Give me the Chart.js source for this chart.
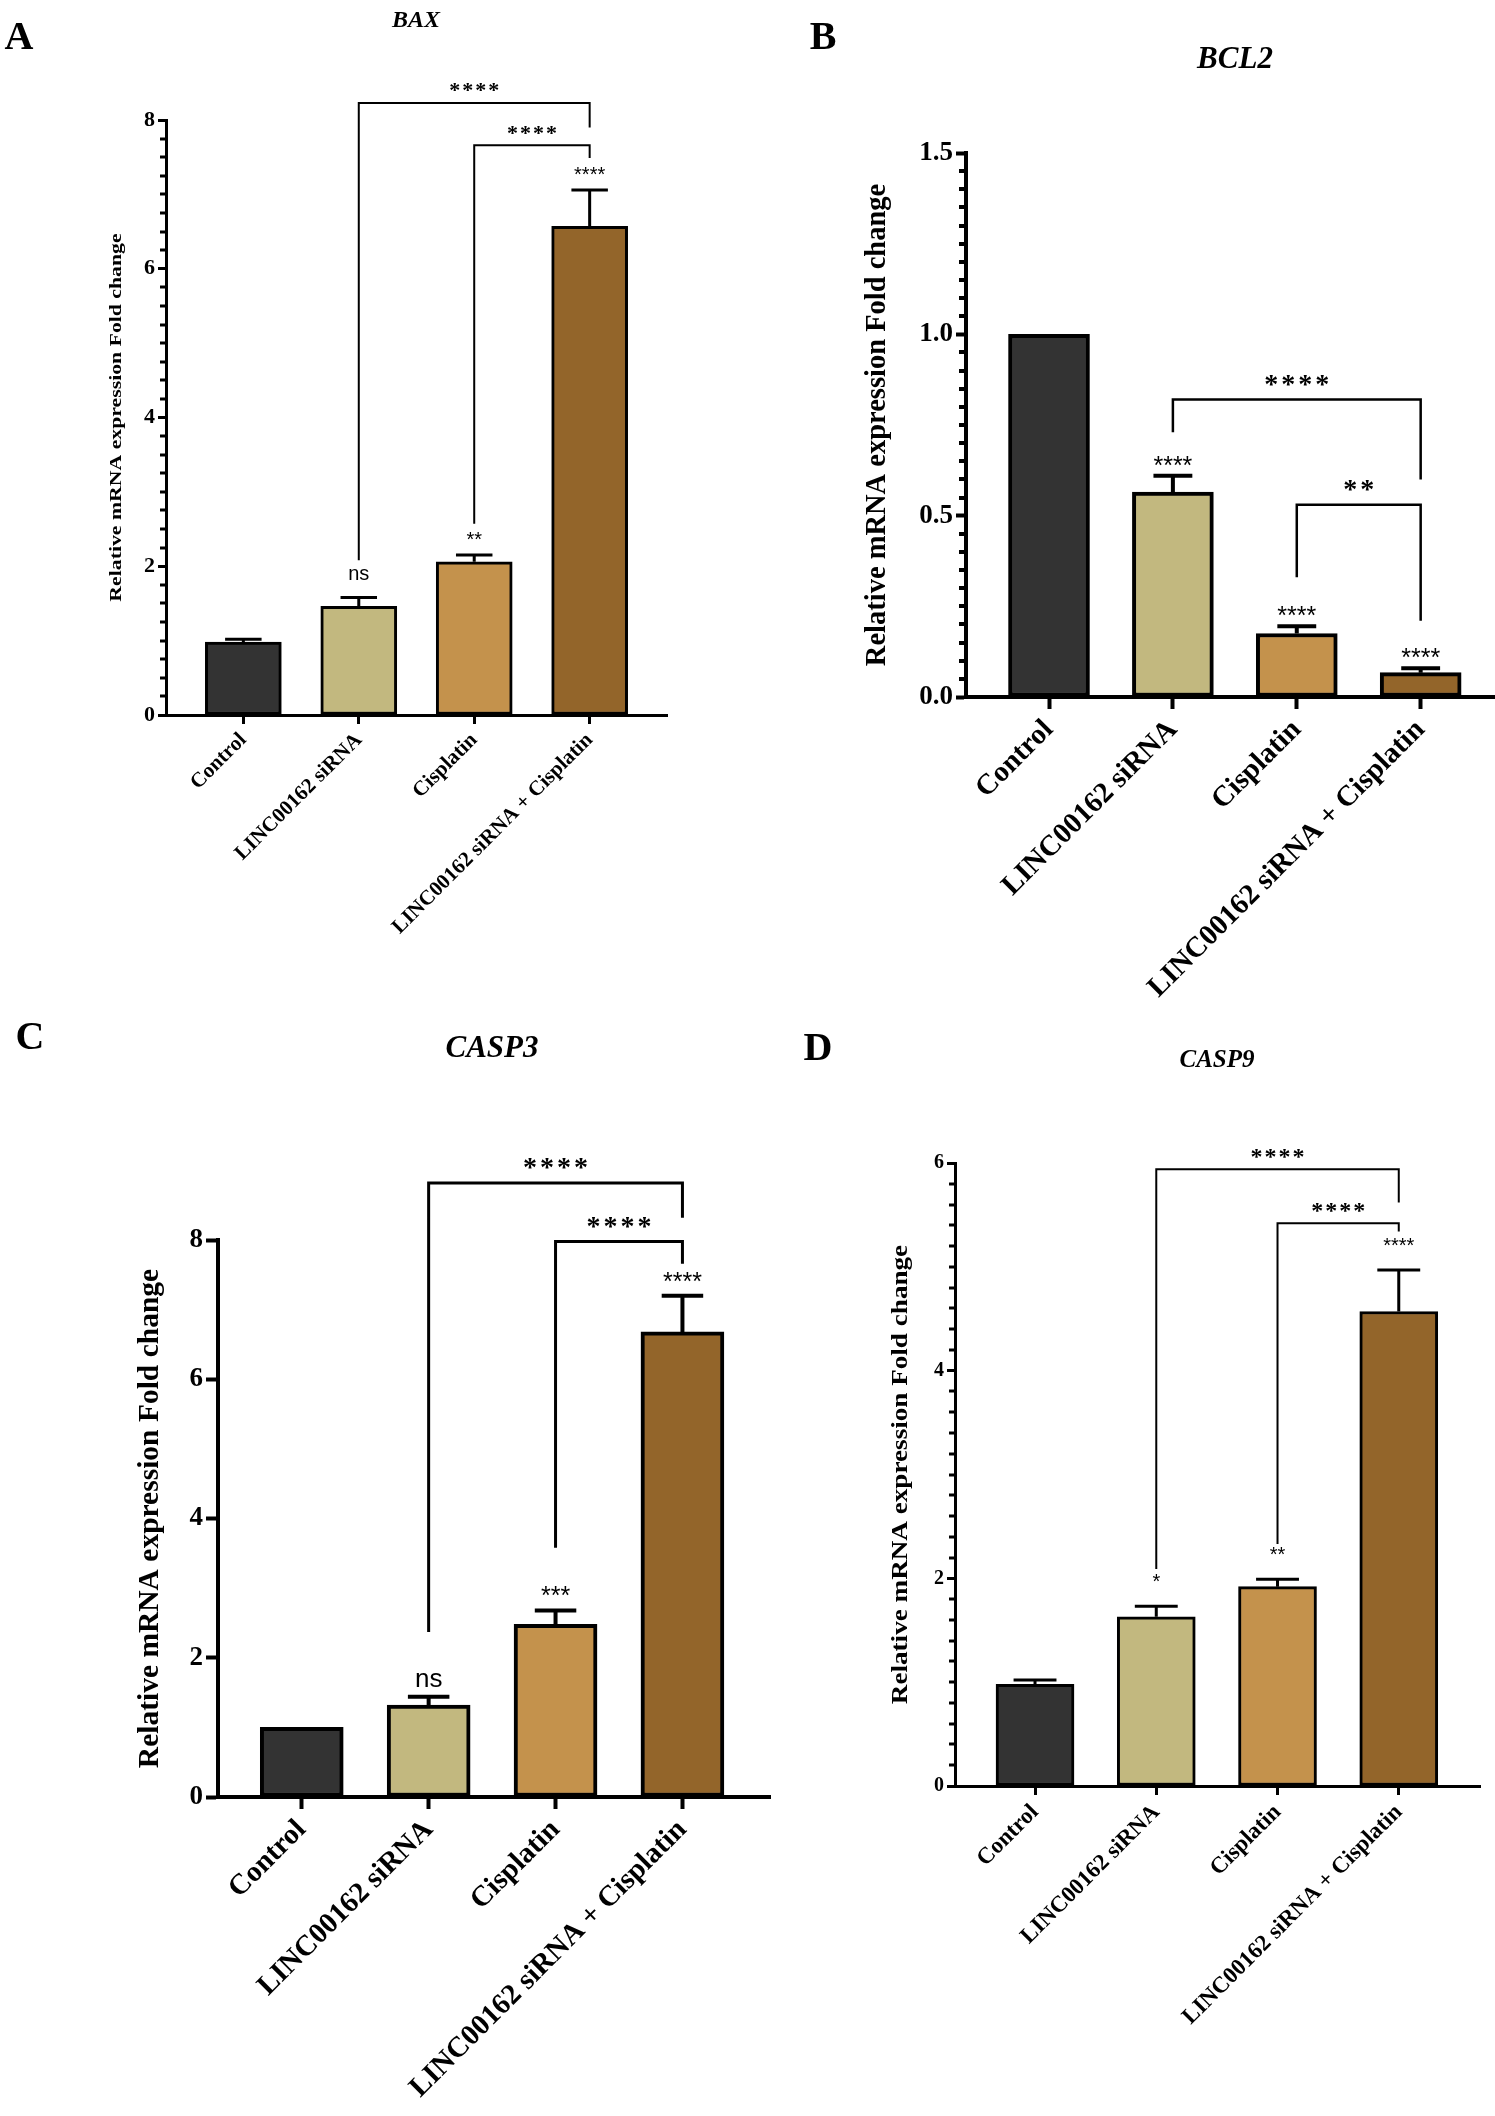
<!DOCTYPE html>
<html>
<head>
<meta charset="utf-8">
<script src="https://cdn.jsdelivr.net/npm/chart.js"></script>
<style>
  html, body { margin: 0; padding: 0; background: #fff; }
  #page { position: relative; width: 1495px; height: 2116px; overflow: hidden; }
  canvas { position: absolute; }
  .letter, .gene {
    position: absolute; transform: translate(-50%, -50%);
    font-family: "Liberation Serif", "Times New Roman", serif; font-weight: bold; color: #000;
    white-space: nowrap; line-height: 1;
  }
  .letter { font-size: 40px; }
  .gene { font-style: italic; }
</style>
</head>
<body>
<div id="page">
  <canvas id="chartA" width="740" height="1000" style="left:0px;top:0px"></canvas>
  <canvas id="chartB" width="745" height="1000" style="left:750px;top:0px"></canvas>
  <canvas id="chartC" width="780" height="1116" style="left:0px;top:1000px"></canvas>
  <canvas id="chartD" width="735" height="1116" style="left:760px;top:1000px"></canvas>

  <div class="letter" style="left:19px;top:36px">A</div>
  <div class="letter" style="left:823px;top:36px">B</div>
  <div class="letter" style="left:30px;top:1036px">C</div>
  <div class="letter" style="left:818px;top:1047px">D</div>

  <div class="gene" style="left:416px;top:19px;font-size:24px">BAX</div>
  <div class="gene" style="left:1235px;top:57px;font-size:31px">BCL2</div>
  <div class="gene" style="left:492px;top:1046px;font-size:31px">CASP3</div>
  <div class="gene" style="left:1217px;top:1058px;font-size:25px">CASP9</div>
</div>

<script>
const categories = ['Control', 'LINC00162 siRNA', 'Cisplatin', 'LINC00162 siRNA + Cisplatin'];

// BAX
const baxMean = [0.98, 1.46, 2.06, 6.57];
const baxErr = [0.04, 0.12, 0.09, 0.49];
const baxStars = ['', 'ns', '**', '****'];
const baxTicks = [0, 2, 4, 6, 8];
const baxComparisons = [
  { from: 1, to: 3, level: 8.23, leftEnd: 2.08, rightEnd: 7.9, label: '****' },
  { from: 2, to: 3, level: 7.66, leftEnd: 2.57, rightEnd: 7.49, label: '****' }
];

// BCL2
const bcl2Mean = [1.0, 0.565, 0.175, 0.067];
const bcl2Err = [0, 0.045, 0.02, 0.012];
const bcl2Stars = ['', '****', '****', '****'];
const bcl2Ticks = [0, 0.5, 1.0, 1.5];
const bcl2Comparisons = [
  { from: 1, to: 3, level: 0.82, leftEnd: 0.73, rightEnd: 0.60, label: '****' },
  { from: 2, to: 3, level: 0.53, leftEnd: 0.33, rightEnd: 0.21, label: '**' }
];

// CASP3
const casp3Mean = [1.0, 1.32, 2.48, 6.68];
const casp3Err = [0, 0.12, 0.2, 0.52];
const casp3Stars = ['', 'ns', '***', '****'];
const casp3Ticks = [0, 2, 4, 6, 8];
const casp3Comparisons = [
  { from: 1, to: 3, level: 8.82, leftEnd: 2.37, rightEnd: 8.32, label: '****' },
  { from: 2, to: 3, level: 7.98, leftEnd: 3.58, rightEnd: 7.66, label: '****' }
];

// CASP9
const casp9Mean = [0.98, 1.63, 1.92, 4.57];
const casp9Err = [0.04, 0.1, 0.07, 0.4];
const casp9Stars = ['', '*', '**', '****'];
const casp9Ticks = [0, 2, 4, 6];
const casp9Comparisons = [
  { from: 1, to: 3, level: 5.94, leftEnd: 2.09, rightEnd: 5.62, label: '****' },
  { from: 2, to: 3, level: 5.42, leftEnd: 2.33, rightEnd: 5.34, label: '****' }
];

const barColors = ['#333333', '#c2b87f', '#c4924c', '#93652a'];
const yTitle = 'Relative mRNA expression Fold change';
const serif = '"Liberation Serif", "Times New Roman", serif';
const sans = '"Liberation Sans", Arial, sans-serif';

const extras = {};

// draws minor ticks, error bars, star marks, brackets and the y title
const annotatePlugin = {
  id: 'annotate',
  afterDraw(chart) {
    const e = extras[chart.canvas.id];
    if (!e) return;
    const s = e.style;
    const ctx = chart.ctx;
    const x = chart.scales.x, y = chart.scales.y;
    const area = chart.chartArea;
    ctx.save();
    ctx.strokeStyle = '#000';
    ctx.fillStyle = '#000';
    ctx.lineCap = 'butt';

    // minor ticks
    if (s.minorStep) {
      const major = e.yTicks[1] - e.yTicks[0];
      const n = Math.round(y.max / s.minorStep);
      ctx.lineWidth = s.lw;
      for (let k = 1; k < n; k++) {
        const v = k * s.minorStep;
        const r = v / major;
        if (Math.abs(r - Math.round(r)) < 1e-6) continue;
        const py = Math.round(y.getPixelForValue(v));
        ctx.beginPath();
        ctx.moveTo(area.left - s.minorLen, py);
        ctx.lineTo(area.left, py);
        ctx.stroke();
      }
    }

    // error bars
    ctx.lineWidth = s.lw;
    e.mean.forEach((m, i) => {
      if (!e.err[i]) return;
      const px = x.getPixelForValue(i);
      const yBar = y.getPixelForValue(m);
      const yTop = y.getPixelForValue(m + e.err[i]);
      const half = s.barW * s.capRatio / 2;
      ctx.beginPath();
      ctx.moveTo(px, yBar);
      ctx.lineTo(px, yTop);
      ctx.moveTo(px - half, yTop);
      ctx.lineTo(px + half, yTop);
      ctx.stroke();
    });

    function centerText(text, cx, cy) {
      const m = ctx.measureText(text);
      const base = cy + (m.actualBoundingBoxAscent - m.actualBoundingBoxDescent) / 2;
      ctx.fillText(text, cx, base);
    }

    // significance above each bar
    ctx.textAlign = 'center';
    ctx.textBaseline = 'alphabetic';
    e.stars.forEach((t, i) => {
      if (!t) return;
      const px = x.getPixelForValue(i);
      const yTop = y.getPixelForValue(e.mean[i] + e.err[i]);
      ctx.font = (t === 'ns' ? s.nsFont : s.starFont) + 'px ' + sans;
      centerText(t, px, yTop - (t === 'ns' ? s.nsGap : s.starGap));
    });

    // comparison brackets
    e.comps.forEach(c => {
      const xl = x.getPixelForValue(c.from);
      const xr = x.getPixelForValue(c.to);
      const yl = y.getPixelForValue(c.level);
      ctx.lineWidth = s.bracketLw;
      ctx.beginPath();
      ctx.moveTo(xl, y.getPixelForValue(c.leftEnd));
      ctx.lineTo(xl, yl);
      ctx.lineTo(xr, yl);
      ctx.lineTo(xr, y.getPixelForValue(c.rightEnd));
      ctx.stroke();
      ctx.font = 'bold ' + s.bracketFont + 'px ' + serif;
      ctx.letterSpacing = s.bracketSpacing + 'px';
      centerText(c.label, (xl + xr) / 2 + s.bracketSpacing / 2, yl - s.bracketGap);
      ctx.letterSpacing = '0px';
    });

    // y axis title
    ctx.translate(s.titleX, (area.top + area.bottom) / 2);
    ctx.rotate(-Math.PI / 2);
    ctx.scale(s.titleStretch, 1);
    ctx.font = 'bold ' + s.titleSize + 'px ' + serif;
    ctx.textBaseline = 'middle';
    ctx.fillText(yTitle, 0, 0);
    ctx.restore();
  }
};

function makeChart(id, mean, err, stars, yTicks, comps, s) {
  extras[id] = { mean, err, stars, yTicks, comps, style: s };
  const ctx = document.getElementById(id).getContext('2d');
  return new Chart(ctx, {
    type: 'bar',
    data: {
      datasets: [{
        data: mean.map((v, i) => ({ x: i, y: v })),
        backgroundColor: barColors,
        borderColor: '#000',
        borderWidth: s.lw,
        borderSkipped: false,
        barThickness: s.barW
      }]
    },
    options: {
      responsive: false,
      animation: false,
      layout: { padding: s.pad },
      plugins: { legend: { display: false }, tooltip: { enabled: false } },
      scales: {
        x: {
          type: 'linear',
          offset: false,
          min: s.xMin,
          max: s.xMax,
          afterBuildTicks: axis => { axis.ticks = categories.map((c, i) => ({ value: i })); },
          afterFit: axis => { axis.height = s.axisH; },
          ticks: {
            autoSkip: false, minRotation: 45, maxRotation: 45, padding: s.xPad, color: '#000',
            font: { family: serif, size: s.xFont, weight: 'bold' },
            callback: v => categories[v]
          },
          grid: { offset: false, drawOnChartArea: false, tickLength: s.tickLen, tickWidth: s.lw, tickColor: '#000' },
          border: { color: '#000', width: s.lw }
        },
        y: {
          min: 0,
          max: yTicks[yTicks.length - 1],
          afterBuildTicks: axis => { axis.ticks = yTicks.map(v => ({ value: v })); },
          afterFit: axis => { axis.width = 70; },
          ticks: {
            padding: 3, color: '#000',
            font: { family: serif, size: s.tickFont, weight: 'bold' },
            callback: v => v.toFixed(s.yDecimals)
          },
          grid: { drawOnChartArea: false, tickLength: s.yTickLen, tickWidth: s.lw, tickColor: '#000' },
          border: { color: '#000', width: s.lw }
        }
      }
    },
    plugins: [annotatePlugin]
  });
}

makeChart('chartA', baxMean, baxErr, baxStars, baxTicks, baxComparisons, {
  pad: { top: 120, left: 96, right: 73, bottom: 0 }, axisH: 285, xMin: -0.67, xMax: 3.67,
  barW: 76, lw: 3, tickLen: 9, yTickLen: 8, minorStep: 0.25, minorLen: 6,
  tickFont: 22, xFont: 21, xPad: 4, yDecimals: 0, capRatio: 0.48,
  starFont: 20, starGap: 19, nsFont: 20, nsGap: 23,
  bracketFont: 22, bracketGap: 15, bracketLw: 2, bracketSpacing: 2,
  titleSize: 17, titleStretch: 1.28, titleX: 117
});

makeChart('chartB', bcl2Mean, bcl2Err, bcl2Stars, bcl2Ticks, bcl2Comparisons, {
  pad: { top: 153, left: 146, right: 0, bottom: 0 }, axisH: 303, xMin: -0.67, xMax: 3.6,
  barW: 81, lw: 4, tickLen: 12, yTickLen: 10, minorStep: 0.05, minorLen: 7,
  tickFont: 27, xFont: 29, xPad: 4, yDecimals: 1, capRatio: 0.48,
  starFont: 25, starGap: 15, nsFont: 25, nsGap: 18,
  bracketFont: 28, bracketGap: 19, bracketLw: 2.5, bracketSpacing: 3,
  titleSize: 28.5, titleStretch: 1, titleX: 128
});

makeChart('chartC', casp3Mean, casp3Err, casp3Stars, casp3Ticks, casp3Comparisons, {
  pad: { top: 240, left: 148, right: 10, bottom: 0 }, axisH: 319, xMin: -0.66, xMax: 3.69,
  barW: 83, lw: 4, tickLen: 12, yTickLen: 12, minorStep: 0, minorLen: 0,
  tickFont: 27, xFont: 29, xPad: 4, yDecimals: 0, capRatio: 0.5,
  starFont: 25, starGap: 19, nsFont: 26, nsGap: 17,
  bracketFont: 28, bracketGap: 19, bracketLw: 3, bracketSpacing: 3,
  titleSize: 29.5, titleStretch: 1, titleX: 150
});

makeChart('chartD', casp9Mean, casp9Err, casp9Stars, casp9Ticks, casp9Comparisons, {
  pad: { top: 163, left: 125, right: 15, bottom: 0 }, axisH: 330, xMin: -0.66, xMax: 3.67,
  barW: 78, lw: 3, tickLen: 9, yTickLen: 8, minorStep: 0.2, minorLen: 6,
  tickFont: 20, xFont: 23, xPad: 4, yDecimals: 0, capRatio: 0.55,
  starFont: 20, starGap: 28, nsFont: 20, nsGap: 28,
  bracketFont: 24, bracketGap: 16, bracketLw: 2, bracketSpacing: 2,
  titleSize: 23, titleStretch: 1.18, titleX: 141
});
</script>
</body>
</html>
